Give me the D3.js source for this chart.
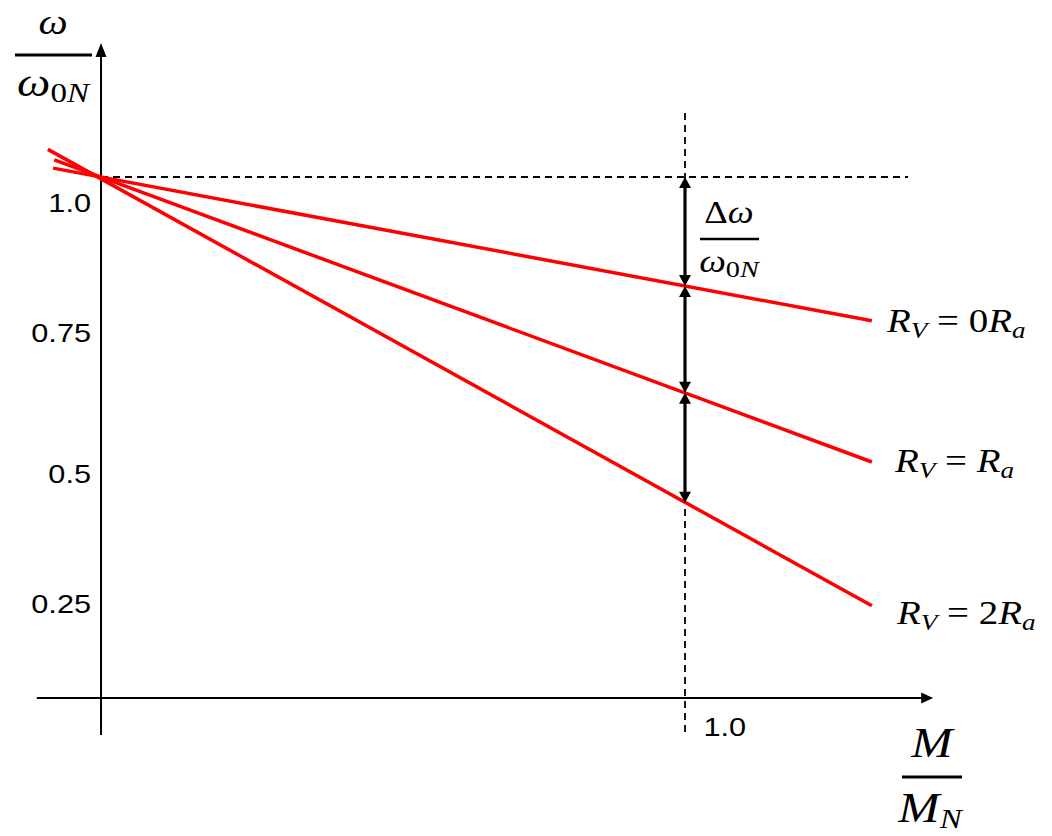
<!DOCTYPE html>
<html><head><meta charset="utf-8">
<script src="https://cdn.jsdelivr.net/npm/d3@7"></script>
<style>body{margin:0;background:#fff}svg{display:block}</style>
</head><body>
<svg id="c" width="1052" height="836"></svg>
<script>
// ---- data (normalised torque M/M_N and speed w/w0N) ----
const torqueDomain = [0, 1];
const speedDomain = [0, 1];
const lineNames = ["0R_a", "R_a", "2R_a"];          // R_V values
const lineStartM = [-0.082, -0.080, -0.091];
const lineStartW = [1.017, 1.033, 1.053];
const lineEndM = [1.32, 1.32, 1.32];
const lineEndW = [0.724, 0.453, 0.177];
const nominalM = 1.0;
const noLoadSpeed = 1.0;
const speedAtNominal = [1.0, 0.791, 0.586, 0.375];   // arrow end points at M = M_N
const yTickLabels = ["1.0", "0.75", "0.5", "0.25"];
const yTickAt = [0.950, 0.701, 0.430, 0.180];
const xTickLabels = ["1.0"];
const xTickAt = [1.0];
const xAxisExtent = [-0.11, 1.425];
const yAxisExtent = [-0.071, 1.257];
const hGuideEndM = 1.382;
const vGuideTopW = 1.123;

// ---- scales ----
const svg = d3.select("#c");
const x = d3.scaleLinear().domain(torqueDomain).range([101, 685]);
const y = d3.scaleLinear().domain(speedDomain).range([698, 177]);
const SX = 1.18; // horizontal stretch of the text in the source

// ---- dashed guides ----
svg.append("line")
  .attr("x1", x(0)).attr("x2", x(hGuideEndM))
  .attr("y1", y(noLoadSpeed)).attr("y2", y(noLoadSpeed))
  .attr("stroke", "#000").attr("stroke-width", 1.8).attr("stroke-dasharray", "7,5");
svg.append("line")
  .attr("x1", x(nominalM)).attr("x2", x(nominalM))
  .attr("y1", y(vGuideTopW)).attr("y2", y(yAxisExtent[0]))
  .attr("stroke", "#000").attr("stroke-width", 1.8).attr("stroke-dasharray", "7,5");

// ---- axes lines with arrows ----
const ax = svg.append("g");
ax.append("line").attr("x1", x(0)).attr("x2", x(0))
  .attr("y1", y(yAxisExtent[0])).attr("y2", y(yAxisExtent[1]) + 12)
  .attr("stroke", "#000").attr("stroke-width", 2);
ax.append("path").attr("d", d3.line()([[x(0), y(yAxisExtent[1])], [x(0) - 5.5, y(yAxisExtent[1]) + 14], [x(0) + 5.5, y(yAxisExtent[1]) + 14]]) + "Z").attr("fill", "#000");
ax.append("line").attr("x1", x(xAxisExtent[0])).attr("x2", x(xAxisExtent[1]) - 10)
  .attr("y1", y(0)).attr("y2", y(0))
  .attr("stroke", "#000").attr("stroke-width", 2);
ax.append("path").attr("d", d3.line()([[x(xAxisExtent[1]), y(0)], [x(xAxisExtent[1]) - 12, y(0) - 5.5], [x(xAxisExtent[1]) - 12, y(0) + 5.5]]) + "Z").attr("fill", "#000");

// tick labels via d3 axes
const yAx = svg.append("g").attr("transform", `translate(${x(0)},0)`)
  .call(d3.axisLeft(y).tickValues(yTickAt).tickFormat((d, i) => yTickLabels[i]).tickSize(0));
yAx.select(".domain").remove();
yAx.selectAll("text").attr("font-family", "'Liberation Sans', Arial, sans-serif").attr("font-size", 26)
  .attr("fill", "#000").attr("x", -10 / SX).attr("transform", `scale(${SX},1)`);
const xAx = svg.append("g").attr("transform", `translate(0,${y(0)})`)
  .call(d3.axisBottom(x).tickValues(xTickAt).tickFormat((d, i) => xTickLabels[i]).tickSize(0));
xAx.select(".domain").remove();
xAx.selectAll(".tick text").attr("font-family", "'Liberation Sans', Arial, sans-serif").attr("font-size", 26)
  .attr("fill", "#000").attr("text-anchor", "start").attr("x", 18 / SX).attr("y", 38).attr("dy", 0)
  .attr("transform", `scale(${SX},1)`);

// ---- characteristic lines ----
const lineGen = d3.line().x(d => x(d[0])).y(d => y(d[1]));
lineNames.forEach((n, i) => {
  svg.append("path")
    .attr("d", lineGen([[lineStartM[i], lineStartW[i]], [lineEndM[i], lineEndW[i]]]))
    .attr("stroke", "#ff0000").attr("stroke-width", 3.5).attr("fill", "none");
});

// ---- double arrows at M = M_N ----
const ah = 11, aw = 6;
for (let i = 0; i < speedAtNominal.length - 1; i++) {
  const xx = x(nominalM), y1 = y(speedAtNominal[i]), y2 = y(speedAtNominal[i + 1]);
  svg.append("line").attr("x1", xx).attr("x2", xx).attr("y1", y1 + ah - 1).attr("y2", y2 - ah + 1)
    .attr("stroke", "#000").attr("stroke-width", 3.2);
  svg.append("path").attr("d", `M${xx},${y1}L${xx - aw},${y1 + ah}L${xx + aw},${y1 + ah}Z`).attr("fill", "#000");
  svg.append("path").attr("d", `M${xx},${y2}L${xx - aw},${y2 - ah}L${xx + aw},${y2 - ah}Z`).attr("fill", "#000");
}

// ---- math text helpers ----
const SERIF = "'Liberation Serif', 'Times New Roman', serif";
function mathText(px, py, parts, size, anchor) {
  const t = svg.append("text")
    .attr("transform", `translate(${px},${py}) scale(${SX},1)`)
    .attr("font-family", SERIF).attr("font-size", size).attr("fill", "#000")
    .attr("text-anchor", anchor || "start");
  let shift = 0;
  parts.forEach(p => {
    const ts = t.append("tspan").text(p.t)
      .attr("font-style", p.i ? "italic" : "normal")
      .attr("font-size", p.s || size);
    const target = p.sub || 0;
    if (target !== shift) { ts.attr("dy", target - shift); shift = target; }
  });
  return t;
}
function bar(x1, x2, yy, w) {
  svg.append("line").attr("x1", x1).attr("x2", x2).attr("y1", yy).attr("y2", yy)
    .attr("stroke", "#000").attr("stroke-width", w);
}

// y axis title  w / w0N
mathText(53, 34, [{ t: "ω", i: true }], 35, "middle");
bar(15, 92, 55, 3);
mathText(53, 96, [{ t: "ω", i: true }, { t: "0", s: 28, sub: 6 }, { t: "N", i: true, s: 28, sub: 6 }], 40, "middle");

// x axis title  M / M_N
mathText(932, 757, [{ t: "M", i: true }], 42, "middle");
bar(902, 962, 777, 3);
mathText(930, 822, [{ t: "M", i: true }, { t: "N", i: true, s: 28, sub: 6 }], 42, "middle");

// delta annotation
mathText(729, 223, [{ t: "Δ" }, { t: "ω", i: true }], 31, "middle");
bar(700, 759, 239, 2.5);
mathText(729, 272, [{ t: "ω", i: true }, { t: "0", s: 24, sub: 5 }, { t: "N", i: true, s: 24, sub: 5 }], 32, "middle");

// series labels
const labelDx = [15, 23, 25], labelDy = [11, 10, 18];
lineNames.forEach((n, i) => {
  const lx = x(lineEndM[i]) + labelDx[i], ly = y(lineEndW[i]) + labelDy[i];
  const parts = [{ t: "R", i: true }, { t: "V", i: true, s: 23, sub: 6 }, { t: " = ", sub: 0 }];
  if (n === "0R_a") parts.push({ t: "0" });
  if (n === "2R_a") parts.push({ t: "2" });
  parts.push({ t: "R", i: true }, { t: "a", i: true, s: 23, sub: 6 });
  mathText(lx, ly, parts, 33, "start");
});
</script>
</body></html>
